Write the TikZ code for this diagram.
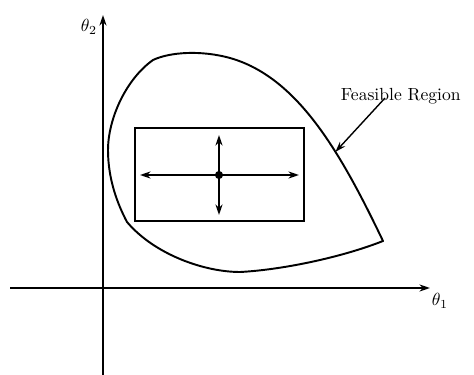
\documentclass[tikz,border=0pt]{standalone}
\usetikzlibrary{arrows.meta}
\begin{document}
\begin{tikzpicture}[x=0.02cm,y=-0.02cm,line width=1.1pt,>={Stealth[length=6pt,width=4pt]}]
  \useasboundingbox (0,0) rectangle (474,375);
  % Axes
  \coordinate (xstart) at (10,288);  \coordinate (xend) at (430,288);
  \coordinate (ystart) at (103,375); \coordinate (yend) at (103,15);
  \draw[->] (xstart) -- (xend);
  \draw[->] (ystart) -- (yend);
  \node (thetaone) at (440,301) {$\theta_1$};
  \node (thetatwo) at (89,27) {$\theta_2$};
  % Feasible region
  \draw[line join=round] (383,241) .. controls (340,151) and (297,77) .. coordinate[pos=0.36] (fhead) (230,58)
    .. controls (201,50) and (170,52) .. (153,60)
    .. controls (125,80) and (108,120) .. (108,150)
    .. controls (108,180) and (118,205) .. (127,222)
    .. controls (155,255) and (205,272) .. (240,272)
    .. controls (280,270) and (340,258) .. cycle;
  % Box with search directions
  \draw (135,128) rectangle (304,221);
  \coordinate (centre) at (219,175);
  \coordinate (left) at (140,175);  \coordinate (right) at (299,175);
  \coordinate (up) at (219,135);    \coordinate (down) at (219,215);
  \draw[->] (centre) -- (left);
  \draw[->] (centre) -- (right);
  \draw[->] (centre) -- (up);
  \draw[->] (centre) -- (down);
  \fill (centre) circle (2.3pt);
  % Label
  \node[anchor=base west, inner sep=0pt] (feas) at (340,101) {Feasible Region};
  \coordinate (ftail) at (385,98);
  \draw[->, line width=0.8pt] (ftail) -- (fhead);
\end{tikzpicture}
\end{document}
